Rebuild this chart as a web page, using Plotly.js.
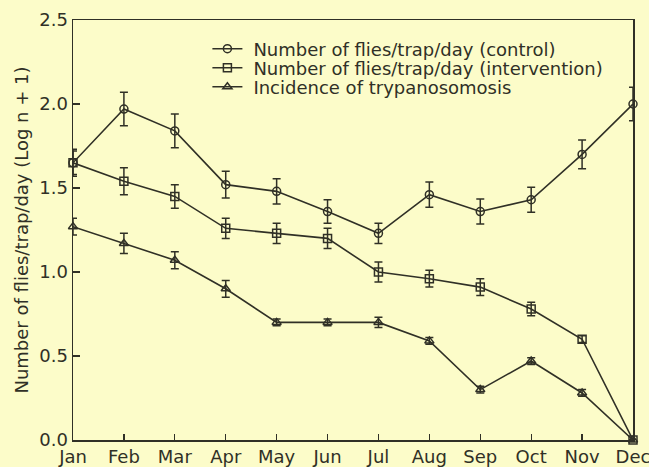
<!DOCTYPE html>
<html>
<head>
<meta charset="utf-8">
<script src="https://cdn.plot.ly/plotly-3.0.1.min.js"></script>
<style>html,body{margin:0;padding:0;background:#fcfcc9;}</style>
</head>
<body>
<div id="chart" style="width:649px;height:467px;"></div>
<script>
const months = ["Jan","Feb","Mar","Apr","May","Jun","Jul","Aug","Sep","Oct","Nov","Dec"];
const controlVals = [1.65, 1.97, 1.84, 1.52, 1.48, 1.36, 1.23, 1.46, 1.36, 1.43, 1.70, 2.00];
const controlErr  = [0.08, 0.10, 0.10, 0.08, 0.075, 0.07, 0.06, 0.075, 0.075, 0.075, 0.085, 0.10];
const interVals   = [1.65, 1.54, 1.45, 1.26, 1.23, 1.20, 1.00, 0.96, 0.91, 0.78, 0.60, 0.00];
const interErr    = [0.07, 0.08, 0.07, 0.06, 0.06, 0.06, 0.06, 0.05, 0.05, 0.04, 0.02, 0.00];
const incVals     = [1.27, 1.17, 1.07, 0.90, 0.70, 0.70, 0.70, 0.59, 0.30, 0.47, 0.28, 0.00];
const incErr      = [0.05, 0.06, 0.05, 0.05, 0.02, 0.02, 0.03, 0.02, 0.02, 0.02, 0.02, 0.00];
const seriesNames = ["Number of flies/trap/day (control)", "Number of flies/trap/day (intervention)", "Incidence of trypanosomosis"];
const yTitle = "Number of flies/trap/day (Log n + 1)";

const ink = "#303026";
const fontFam = "DejaVu Sans, Liberation Sans, Arial, sans-serif";

function mk(name, y, err, symbol) {
  return {
    type: "scatter", mode: "lines+markers", name: name,
    x: months, y: y,
    error_y: {type: "data", array: err, visible: true, color: ink, thickness: 1.5, width: 4},
    line: {color: ink, width: 1.6},
    marker: {symbol: symbol, size: 8, color: ink, line: {color: ink, width: 1.5}},
    cliponaxis: false
  };
}

const data = [
  mk(seriesNames[0], controlVals, controlErr, "circle-open"),
  mk(seriesNames[1], interVals, interErr, "square-open"),
  mk(seriesNames[2], incVals, incErr, "triangle-up-open")
];

const layout = {
  width: 649, height: 467,
  margin: {l: 73, r: 16, t: 20, b: 27},
  paper_bgcolor: "#fcfcc9", plot_bgcolor: "#fcfcc9",
  font: {family: fontFam, size: 18, color: ink},
  showlegend: true,
  legend: {x: 0.24, y: 0.975, xanchor: "left", yanchor: "top", bgcolor: "rgba(0,0,0,0)",
           font: {family: fontFam, size: 18, color: ink}, itemwidth: 30, tracegroupgap: 0},
  xaxis: {
    type: "category", range: [0, 11],
    showline: true, mirror: true, linecolor: ink, linewidth: 1.5,
    ticks: "inside", ticklen: 6, tickcolor: ink, tickwidth: 1.2,
    showgrid: false, zeroline: false,
    tickfont: {family: fontFam, size: 18, color: ink}
  },
  yaxis: {
    range: [0, 2.5], dtick: 0.5, tick0: 0, tickformat: ".1f",
    showline: true, mirror: true, linecolor: ink, linewidth: 1.5,
    ticks: "inside", ticklen: 7, tickcolor: ink, tickwidth: 1.2,
    showgrid: false, zeroline: false,
    tickfont: {family: fontFam, size: 18, color: ink},
    title: {text: yTitle, font: {family: fontFam, size: 18, color: ink}, standoff: 6}
  }
};

Plotly.newPlot("chart", data, layout, {displayModeBar: false, staticPlot: true}).then(function (gd) {
  // tighten legend row spacing to match the printed figure
  const rows = gd.querySelectorAll(".legend .traces");
  if (!rows.length) return;
  const firstTop = rows[0].getBoundingClientRect().top;
  rows.forEach(function (el, i) {
    const cur = el.getBoundingClientRect().top;
    const delta = firstTop + i * 19 - cur;
    el.setAttribute("transform", (el.getAttribute("transform") || "") + " translate(0," + delta + ")");
    const t = el.querySelector(".legendtext");
    if (t) t.setAttribute("x", parseFloat(t.getAttribute("x") || 0) + 6);
  });
});
</script>
</body>
</html>
